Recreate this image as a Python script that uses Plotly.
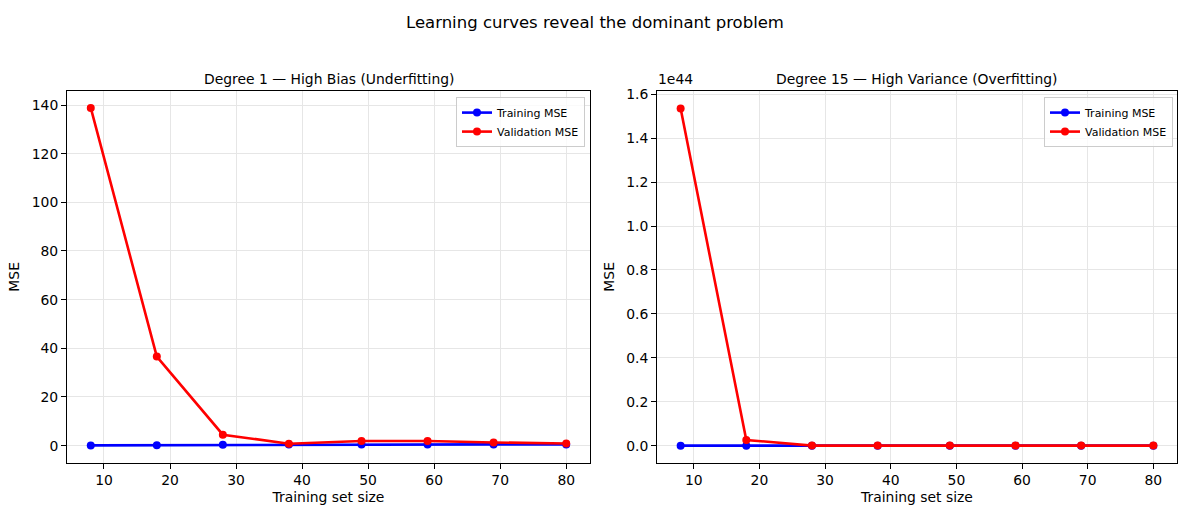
import plotly.graph_objects as go

# ---- data ----
train_sizes = [8, 18, 28, 38, 49, 59, 69, 80]

deg1_train_mse = [0.1, 0.2, 0.4, 0.45, 0.45, 0.45, 0.5, 0.5]
deg1_val_mse = [138.8, 36.6, 4.5, 0.8, 1.9, 1.9, 1.3, 0.9]

deg15_train_mse = [0.0, 0.0, 1e38, 2e38, 2e38, 3e38, 3e38, 3e38]
deg15_val_mse = [1.535e44, 2.6e42, 3e40, 2e40, 2e40, 2e40, 2e40, 2e40]

x_ticks = [10, 20, 30, 40, 50, 60, 70, 80]
left_y_ticks = [0, 20, 40, 60, 80, 100, 120, 140]
right_y_ticks = [0.0, 0.2e44, 0.4e44, 0.6e44, 0.8e44, 1.0e44, 1.2e44, 1.4e44, 1.6e44]
right_y_ticktext = ["0.0", "0.2", "0.4", "0.6", "0.8", "1.0", "1.2", "1.4", "1.6"]

suptitle = "Learning curves reveal the dominant problem"
left_title = "Degree 1 \u2014 High Bias (Underfitting)"
right_title = "Degree 15 \u2014 High Variance (Overfitting)"

W, H = 1189, 515
FONT = "DejaVu Sans"
BLUE = "#0000ff"
RED = "#ff0000"
FS = 13.9

fig = go.Figure()

def add_pair(xa, ya, leg, tr, va):
    fig.add_trace(go.Scatter(x=train_sizes, y=tr, mode="lines+markers", name="Training MSE",
                             line=dict(color=BLUE, width=2.6), marker=dict(color=BLUE, size=8),
                             xaxis=xa, yaxis=ya, legend=leg))
    fig.add_trace(go.Scatter(x=train_sizes, y=va, mode="lines+markers", name="Validation MSE",
                             line=dict(color=RED, width=2.6), marker=dict(color=RED, size=8),
                             xaxis=xa, yaxis=ya, legend=leg))

add_pair("x", "y", "legend", deg1_train_mse, deg1_val_mse)
add_pair("x2", "y2", "legend2", deg15_train_mse, deg15_val_mse)

# axes pixel boxes
L1, R1 = 67, 590
L2, R2 = 657, 1177
TOP, BOT = 87, 462

def px(x):
    return x / W

def py(y):
    return (H - y) / H

axis_common = dict(showline=True, linecolor="black", linewidth=1, mirror=True,
                   ticks="outside", ticklen=5, tickwidth=1, tickcolor="black",
                   showgrid=True, gridcolor="#e6e6e6", gridwidth=1, zeroline=False,
                   tickfont=dict(family=FONT, size=FS, color="black"))

fig.update_layout(
    width=W, height=H,
    margin=dict(l=0, r=0, t=0, b=0),
    paper_bgcolor="white", plot_bgcolor="white",
    font=dict(family=FONT, color="black"),
    xaxis=dict(domain=[px(L1), px(R1)], anchor="y", range=[4.4, 83.6], tickvals=x_ticks,
               title=dict(text="Training set size", font=dict(size=FS), standoff=5), **axis_common),
    yaxis=dict(domain=[py(BOT), py(TOP)], anchor="x", range=[-6.94, 145.7], tickvals=left_y_ticks,
               title=dict(text="MSE", font=dict(size=FS), standoff=8), **axis_common),
    xaxis2=dict(domain=[px(L2), px(R2)], anchor="y2", range=[4.4, 83.6], tickvals=x_ticks,
                title=dict(text="Training set size", font=dict(size=FS), standoff=5), **axis_common),
    yaxis2=dict(domain=[py(BOT), py(TOP)], anchor="x2", range=[-0.0768e44, 1.6145e44],
                tickvals=right_y_ticks, ticktext=right_y_ticktext,
                title=dict(text="MSE", font=dict(size=FS), standoff=8), **axis_common),
    legend=dict(x=px(585), y=py(93), xanchor="right", yanchor="top",
                bgcolor="rgba(255,255,255,0.8)", bordercolor="#cccccc", borderwidth=1,
                font=dict(family=FONT, size=11), itemwidth=30, tracegroupgap=0),
    legend2=dict(x=px(1173), y=py(93), xanchor="right", yanchor="top",
                 bgcolor="rgba(255,255,255,0.8)", bordercolor="#cccccc", borderwidth=1,
                 font=dict(family=FONT, size=11), itemwidth=30, tracegroupgap=0),
    showlegend=True,
)

fig.add_annotation(text=suptitle, xref="paper", yref="paper", x=0.5, y=py(18),
                   xanchor="center", yanchor="middle", showarrow=False,
                   font=dict(family=FONT, size=16.5, color="black"))
fig.add_annotation(text=left_title, xref="paper", yref="paper", x=px((L1 + R1) / 2), y=py(75),
                   xanchor="center", yanchor="middle", showarrow=False,
                   font=dict(family=FONT, size=FS, color="black"))
fig.add_annotation(text=right_title, xref="paper", yref="paper", x=px((L2 + R2) / 2), y=py(75),
                   xanchor="center", yanchor="middle", showarrow=False,
                   font=dict(family=FONT, size=FS, color="black"))
fig.add_annotation(text="1e44", xref="paper", yref="paper", x=px(656), y=py(85),
                   xanchor="left", yanchor="bottom", showarrow=False,
                   font=dict(family=FONT, size=FS, color="black"))

fig.write_html("out.html")
